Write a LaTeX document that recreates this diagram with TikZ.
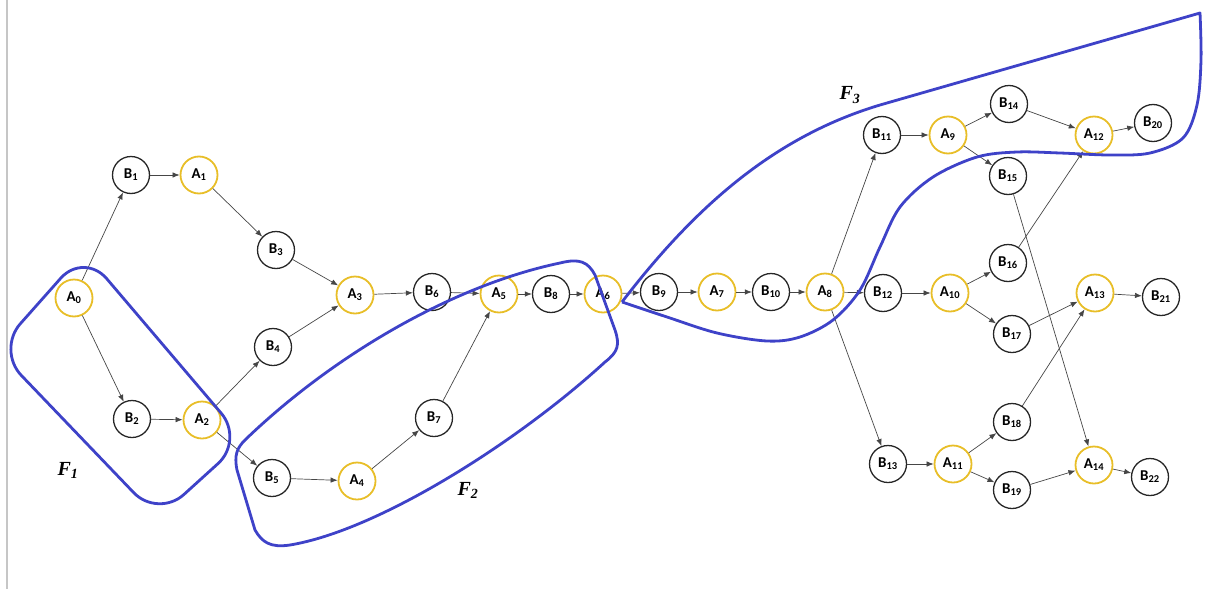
\documentclass[tikz,border=0pt]{standalone}
\usepackage{fontspec}
\setmainfont{Carlito}
\newfontfamily\flabfont{Liberation Serif}
\usetikzlibrary{arrows.meta}
\definecolor{goldc}{RGB}{232,190,40}
\definecolor{bluec}{RGB}{62,66,200}
\definecolor{edgec}{RGB}{70,70,70}
\tikzset{
  nd/.style={circle,minimum size=37pt,inner sep=0pt,line width=1.3pt,font=\fontsize{15}{16}\selectfont\bfseries},
  anode/.style={nd,draw=goldc,line width=1.8pt},
  bnode/.style={nd,draw=black!85},
  arr/.style={draw=edgec,line width=0.7pt,-{Latex[length=7pt,width=5.5pt]}},
  fam/.style={draw=bluec,line width=2.8pt,line join=round},
  flab/.style={font=\flabfont\fontsize{20}{21}\selectfont\bfseries\itshape,inner sep=0pt}
}
\begin{document}
\begin{tikzpicture}[x=1pt,y=-1pt]
\useasboundingbox (0,0) rectangle (1206,589);
\draw[gray!45,line width=1.4pt] (7,0) -- (7,589);
% nodes
\node[anode] (A0) at (74,298) {A\textsubscript{0}};
\node[bnode] (B1) at (131,175) {B\textsubscript{1}};
\node[anode] (A1) at (199,175) {A\textsubscript{1}};
\node[bnode] (B3) at (276,250) {B\textsubscript{3}};
\node[anode] (A3) at (355,295) {A\textsubscript{3}};
\node[bnode] (B4) at (273,347) {B\textsubscript{4}};
\node[bnode] (B2) at (132,419) {B\textsubscript{2}};
\node[anode] (A2) at (202,420) {A\textsubscript{2}};
\node[bnode] (B5) at (272,478) {B\textsubscript{5}};
\node[anode] (A4) at (357,481) {A\textsubscript{4}};
\node[bnode] (B7) at (434,418) {B\textsubscript{7}};
\node[bnode] (B6) at (432,292) {B\textsubscript{6}};
\node[anode] (A5) at (499,294) {A\textsubscript{5}};
\node[bnode] (B8) at (551,294) {B\textsubscript{8}};
\node[anode] (A6) at (603,294) {A\textsubscript{6}};
\node[bnode] (B9) at (659,292) {B\textsubscript{9}};
\node[anode] (A7) at (717,292) {A\textsubscript{7}};
\node[bnode] (B10) at (771,292) {B\textsubscript{10}};
\node[anode] (A8) at (825,292) {A\textsubscript{8}};
\node[bnode] (B11) at (882,135) {B\textsubscript{11}};
\node[anode] (A9) at (948,135) {A\textsubscript{9}};
\node[bnode] (B14) at (1009,104) {B\textsubscript{14}};
\node[bnode] (B15) at (1008,176) {B\textsubscript{15}};
\node[anode] (A12) at (1094,135) {A\textsubscript{12}};
\node[bnode] (B20) at (1153,123) {B\textsubscript{20}};
\node[bnode] (B12) at (883,293) {B\textsubscript{12}};
\node[anode] (A10) at (950,293) {A\textsubscript{10}};
\node[bnode] (B16) at (1008,263) {B\textsubscript{16}};
\node[bnode] (B17) at (1012,334) {B\textsubscript{17}};
\node[anode] (A13) at (1095,293) {A\textsubscript{13}};
\node[bnode] (B21) at (1161,297) {B\textsubscript{21}};
\node[bnode] (B18) at (1012,422) {B\textsubscript{18}};
\node[bnode] (B13) at (888,464) {B\textsubscript{13}};
\node[anode] (A11) at (953,464) {A\textsubscript{11}};
\node[bnode] (B19) at (1012,490) {B\textsubscript{19}};
\node[anode] (A14) at (1094,465) {A\textsubscript{14}};
\node[bnode] (B22) at (1150,477) {B\textsubscript{22}};
% edges
\foreach \a/\b in {A0/B1,B1/A1,A1/B3,B3/A3,A0/B2,B2/A2,A2/B4,B4/A3,A2/B5,B5/A4,A4/B7,B7/A5,A3/B6,B6/A5,A5/B8,B8/A6,A6/B9,B9/A7,A7/B10,B10/A8,A8/B11,A8/B12,A8/B13,B11/A9,A9/B14,A9/B15,B14/A12,A12/B20,B12/A10,A10/B16,A10/B17,B16/A12,B17/A13,A13/B21,B13/A11,A11/B18,A11/B19,B18/A13,B15/A14,B19/A14,A14/B22}
  \draw[arr] (\a) -- (\b);
% families
\draw[fam,rounded corners=35pt] (84,252) -- (244,440) -- (158,518) -- (-3,350) -- cycle;
\draw[fam] (245,440) .. controls (330,358) and (450,286) .. (560,263)
  .. controls (580,258) and (588,262) .. (595,275)
  -- (615,330) .. controls (620,345) and (618,352) .. (605,362)
  .. controls (520,440) and (380,530) .. (290,545)
  .. controls (270,548) and (262,542) .. (255,530)
  -- (237,470) .. controls (234,455) and (237,448) .. (245,440) -- cycle;
\draw[fam] (622,302) .. controls (700,200) and (780,135) .. (880,105) -- (1200,13)
  -- plot[smooth,tension=0.55] coordinates {(1200,13) (1201,60) (1197,105) (1183,138) (1150,153) (1110,155) (1060,153) (1017,152) (977,157) (933,177) (900,207) (880,247) (860,290) (833,320) (800,337) (767,341) (717,333) (667,317) (622,302)};
% labels
\node[flab] (F1) at (68,470) {F\textsubscript{1}};
\node[flab] (F2) at (468,490) {F\textsubscript{2}};
\node[flab] (F3) at (850,95) {F\textsubscript{3}};
\end{tikzpicture}
\end{document}
